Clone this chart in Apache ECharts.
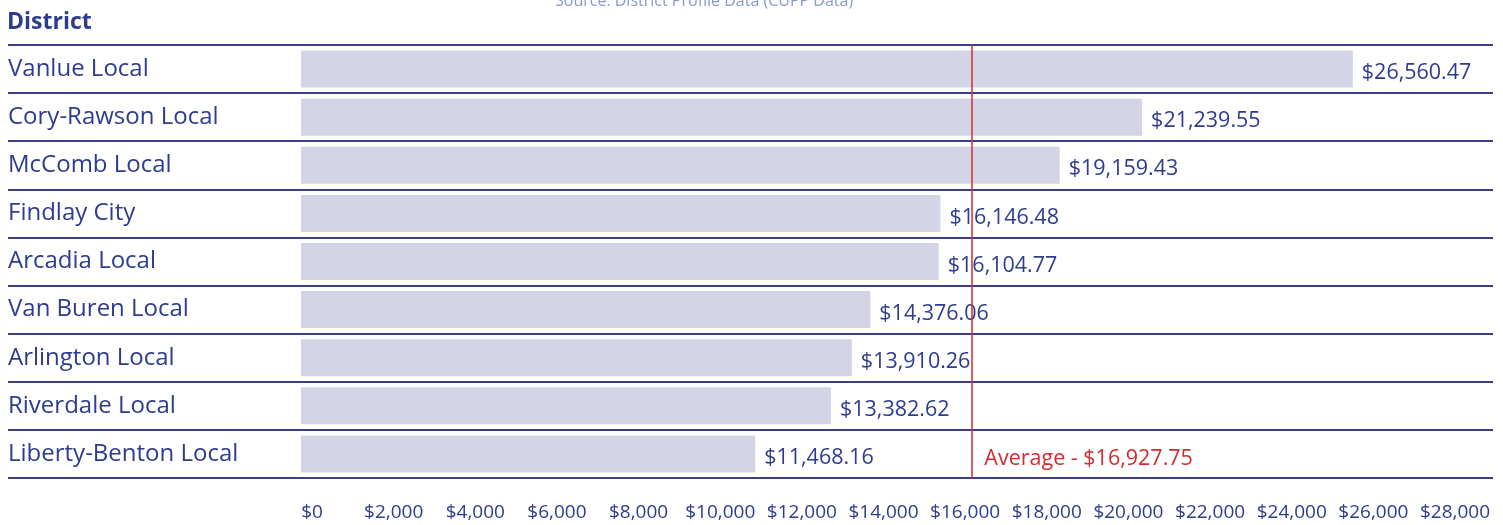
<!DOCTYPE html>
<html lang="en">
<head>
  <meta charset="UTF-8">
  <title>District values</title>
  <script src="https://cdn.jsdelivr.net/npm/echarts@6/dist/echarts.min.js"></script>
  <style>body{margin:0;background:#fff}</style>
</head>
<body>
  <div id="main" style="width:1503px;height:525px"></div>

  <script>
  // data
  const districts = ['Vanlue Local','Cory-Rawson Local','McComb Local','Findlay City','Arcadia Local',
                     'Van Buren Local','Arlington Local','Riverdale Local','Liberty-Benton Local'];
  const amounts = [26560.47, 21239.55, 19159.43, 16146.48, 16104.77, 14376.06, 13910.26, 13382.62, 11468.16];
  const average = 16927.75;
  const tickMax = 28000;

  const navy = '#2d3c8e', font = 'Open Sans';
  const money = (v, d) => '$' + v.toLocaleString('en-US', {minimumFractionDigits:d, maximumFractionDigits:d});

  const chart = echarts.init(document.getElementById('main'));
  chart.setOption({
    animation:false,
    textStyle:{fontFamily:font},
    title:[
      {text:'District', left:2, top:6, textStyle:{fontFamily:font,fontSize:23,fontWeight:'bold',color:navy}},
      {text:'Source: District Profile Data (CUPP Data)', left:550, top:-12, textStyle:{fontFamily:font,fontSize:16,fontWeight:'normal',color:'#8a9ad0'}}
    ],
    grid:[
      {left:301, right:14, top:45, height:433},   // bars
      {left:8, right:10, top:45, height:433},     // row rules
      {left:312, right:48, top:478, height:1}     // tick labels
    ],
    xAxis:[
      {gridIndex:0, type:'value', min:0, max:30000, show:false},
      {gridIndex:1, type:'value', min:0, max:1, show:false},
      {gridIndex:2, type:'value', min:0, max:tickMax, interval:2000,
       axisLine:{show:false}, axisTick:{show:false}, splitLine:{show:false},
       axisLabel:{margin:24, fontSize:19, color:navy, fontFamily:font, formatter:v=>money(v,0)}}
    ],
    yAxis:[
      {gridIndex:0, type:'category', data:districts, inverse:true,
       axisLine:{show:false}, axisTick:{show:false}, splitLine:{show:false},
       axisLabel:{align:'left', margin:293, fontSize:24, color:navy, fontFamily:font, padding:[4,0,0,0]}},
      {gridIndex:1, type:'category', data:districts, inverse:true,
       axisLine:{show:false}, axisTick:{show:false}, axisLabel:{show:false},
       splitLine:{show:true, lineStyle:{color:'#3c4081', width:2}}},
      {gridIndex:2, type:'value', show:false}
    ],
    series:[{
      type:'bar', xAxisIndex:0, yAxisIndex:0, data:amounts, barWidth:37,
      itemStyle:{color:'#d3d5e7'},
      label:{show:true, position:'right', distance:9, offset:[0,4], fontSize:21.5, color:navy, fontFamily:font,
             formatter:p=>money(p.value,2)},
      markLine:{symbol:'none', silent:true, label:{show:false},
        lineStyle:{color:'#d42a30', width:1.5, type:'solid'},
        data:[{xAxis:average}]},
      markPoint:{symbolSize:0, silent:true,
        label:{show:true, position:'right', offset:[8,5], fontSize:21.5, color:'#d42a30', fontFamily:font,
               formatter:()=>'Average - ' + money(average,2)},
        data:[{coord:[average, districts[districts.length-1]]}]}
    }]
  });
  </script>
</body>
</html>
